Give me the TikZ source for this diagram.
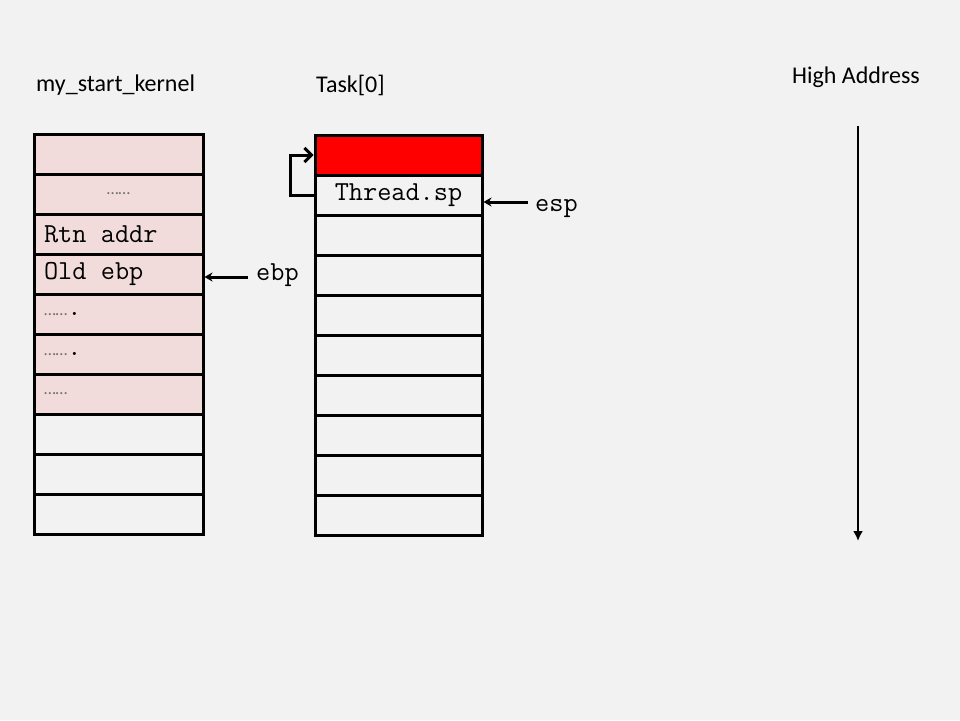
\documentclass[tikz,border=0pt]{standalone}
\usepackage{fontspec}
\setmainfont{Carlito}
\usetikzlibrary{arrows.meta}

\definecolor{slidebg}{HTML}{F2F2F2}
\definecolor{framepink}{HTML}{F2DCDB}
\definecolor{topred}{HTML}{FF0000}
\definecolor{dotgray}{HTML}{707070}

\newcommand{\dotsfill}{{\rmfamily\fontsize{17}{20}\selectfont\color{dotgray}……}}
\newcommand{\ttgap}{\hspace*{0.525em}}

\tikzset{
  cell/.style={draw, line width=3pt, minimum height=40pt, inner xsep=10pt, inner ysep=0pt,
    font=\ttfamily\fontsize{27.5}{30}\selectfont},
  heading/.style={anchor=base west, inner sep=0pt, font=\fontsize{24}{28}\selectfont},
  reglabel/.style={anchor=base west, inner sep=0pt, font=\ttfamily\fontsize{27.5}{30}\selectfont},
  pointer/.style={-{Stealth[length=8pt,width=9pt]}, line width=3pt},
}

\begin{document}
\begin{tikzpicture}[x=1pt, y=-1pt]
  % Slide background
  \fill[slidebg] (0,0) rectangle (960,720);
  \useasboundingbox (0,0) rectangle (960,720);

  % Headings
  \node[heading] (kname) at (36,91) {my\_start\_kernel};
  \node[heading] (tname) at (316,92) {Task[0]};
  \node[heading] (hname) at (792,83) {High Address};

  % my_start_kernel stack
  \foreach \i/\txt/\al in {1/{}/left, 2/{\dotsfill}/center, 3/{Rtn\ttgap addr}/left, 4/{Old\ttgap ebp}/left,
                           5/{\dotsfill.}/left, 6/{\dotsfill.}/left, 7/{\dotsfill}/left}
    \node[cell, fill=framepink, text width=149pt, align=\al] (k\i) at (118.5,{154+40*(\i-1)}) {\txt};
  \foreach \i in {8,9,10}
    \node[cell, text width=149pt] (k\i) at (118.5,{154+40*(\i-1)}) {};

  % Task[0] stack
  \node[cell, fill=topred, text width=147pt] (t1) at (398.5,155) {};
  \node[cell, text width=147pt, align=center] (t2) at (398.5,195) {Thread.sp};
  \foreach \i in {3,...,10}
    \node[cell, text width=147pt] (t\i) at (398.5,{155+40*(\i-1)}) {};

  % Register pointers
  \node[reglabel] (ebp) at (256,280) {ebp};
  \coordinate (ebptail) at (248,277);
  \draw[pointer] (ebptail) -- (ebptail -| k4.east);
  \node[reglabel] (esp) at (535,211) {esp};
  \coordinate (esptail) at (528,202);
  \draw[pointer] (esptail) -- (esptail -| t2.east);

  % Thread.sp back to top of stack
  \draw[-{Straight Barb[length=7pt,width=14pt]}, line width=3pt]
    (t2.west) -- ++(-23,0) |- (t1.west);

  % Address direction
  \coordinate (hi) at (858,126);
  \coordinate (lo) at (858,541);
  \draw[-{Latex[length=10pt,width=10pt]}, line width=2.5pt] (hi) -- (lo);
\end{tikzpicture}
\end{document}
